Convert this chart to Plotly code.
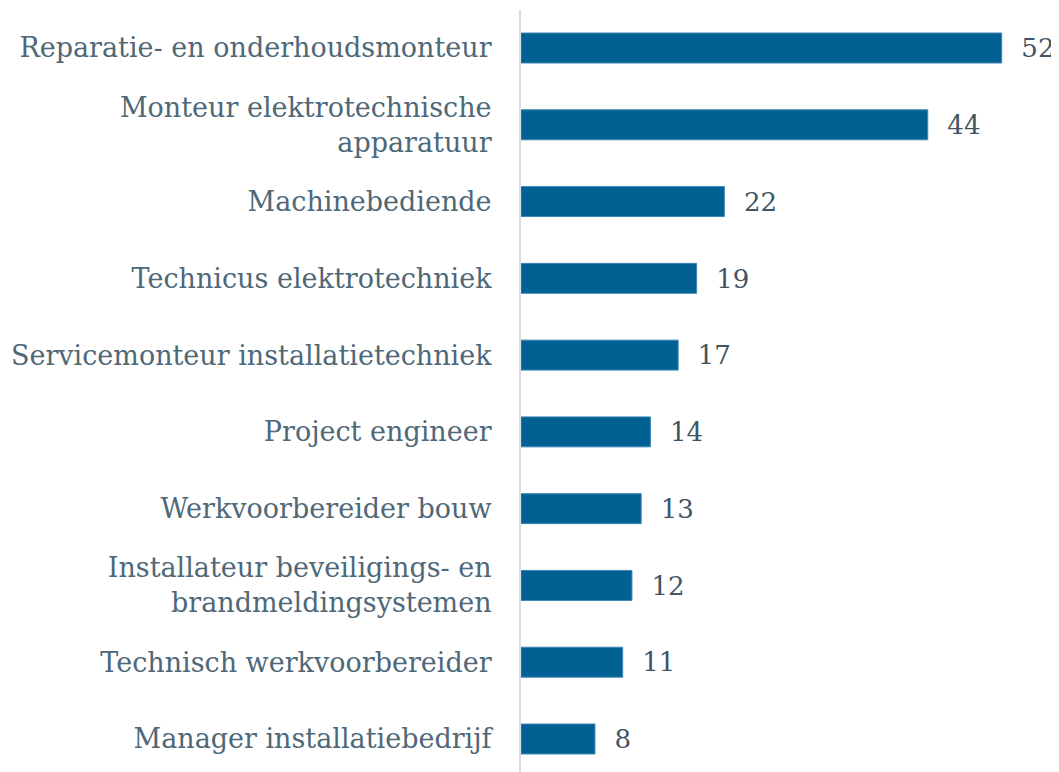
import plotly.graph_objects as go

categories = [
    "Reparatie- en onderhoudsmonteur",
    "Monteur elektrotechnische<br>apparatuur",
    "Machinebediende",
    "Technicus elektrotechniek",
    "Servicemonteur installatietechniek",
    "Project engineer",
    "Werkvoorbereider bouw",
    "Installateur beveiligings- en<br>brandmeldingsystemen",
    "Technisch werkvoorbereider",
    "Manager installatiebedrijf",
]
values = [52, 44, 22, 19, 17, 14, 13, 12, 11, 8]

FONT = "DejaVu Serif"

fig = go.Figure(
    go.Bar(
        x=values,
        y=categories,
        orientation="h",
        marker=dict(color="#006192", line=dict(color="#3a86b5", width=1)),
        width=0.39,
        text=["  " + str(v) for v in values],
        textposition="outside",
        textfont=dict(family=FONT, size=27, color="#3f5464"),
        cliponaxis=False,
    )
)

# page body has an 8px default margin, so the figure is sized/offset to compensate
fig.update_layout(
    width=1051,
    height=764,
    margin=dict(l=513, r=0, t=2, b=0, autoexpand=False),
    plot_bgcolor="white",
    paper_bgcolor="white",
    showlegend=False,
    xaxis=dict(
        range=[0, 58.2],
        visible=False,
        showgrid=False,
        zeroline=False,
        automargin=False,
    ),
    yaxis=dict(
        type="category",
        categoryorder="array",
        categoryarray=categories,
        range=[9.43, -0.495],
        showline=True,
        linecolor="#d9dee3",
        linewidth=2,
        ticks="",
        ticklabelstandoff=22,
        tickfont=dict(family=FONT, size=27, color="#4e6878"),
        showgrid=False,
        automargin=False,
    ),
)

fig.write_html("out.html")
